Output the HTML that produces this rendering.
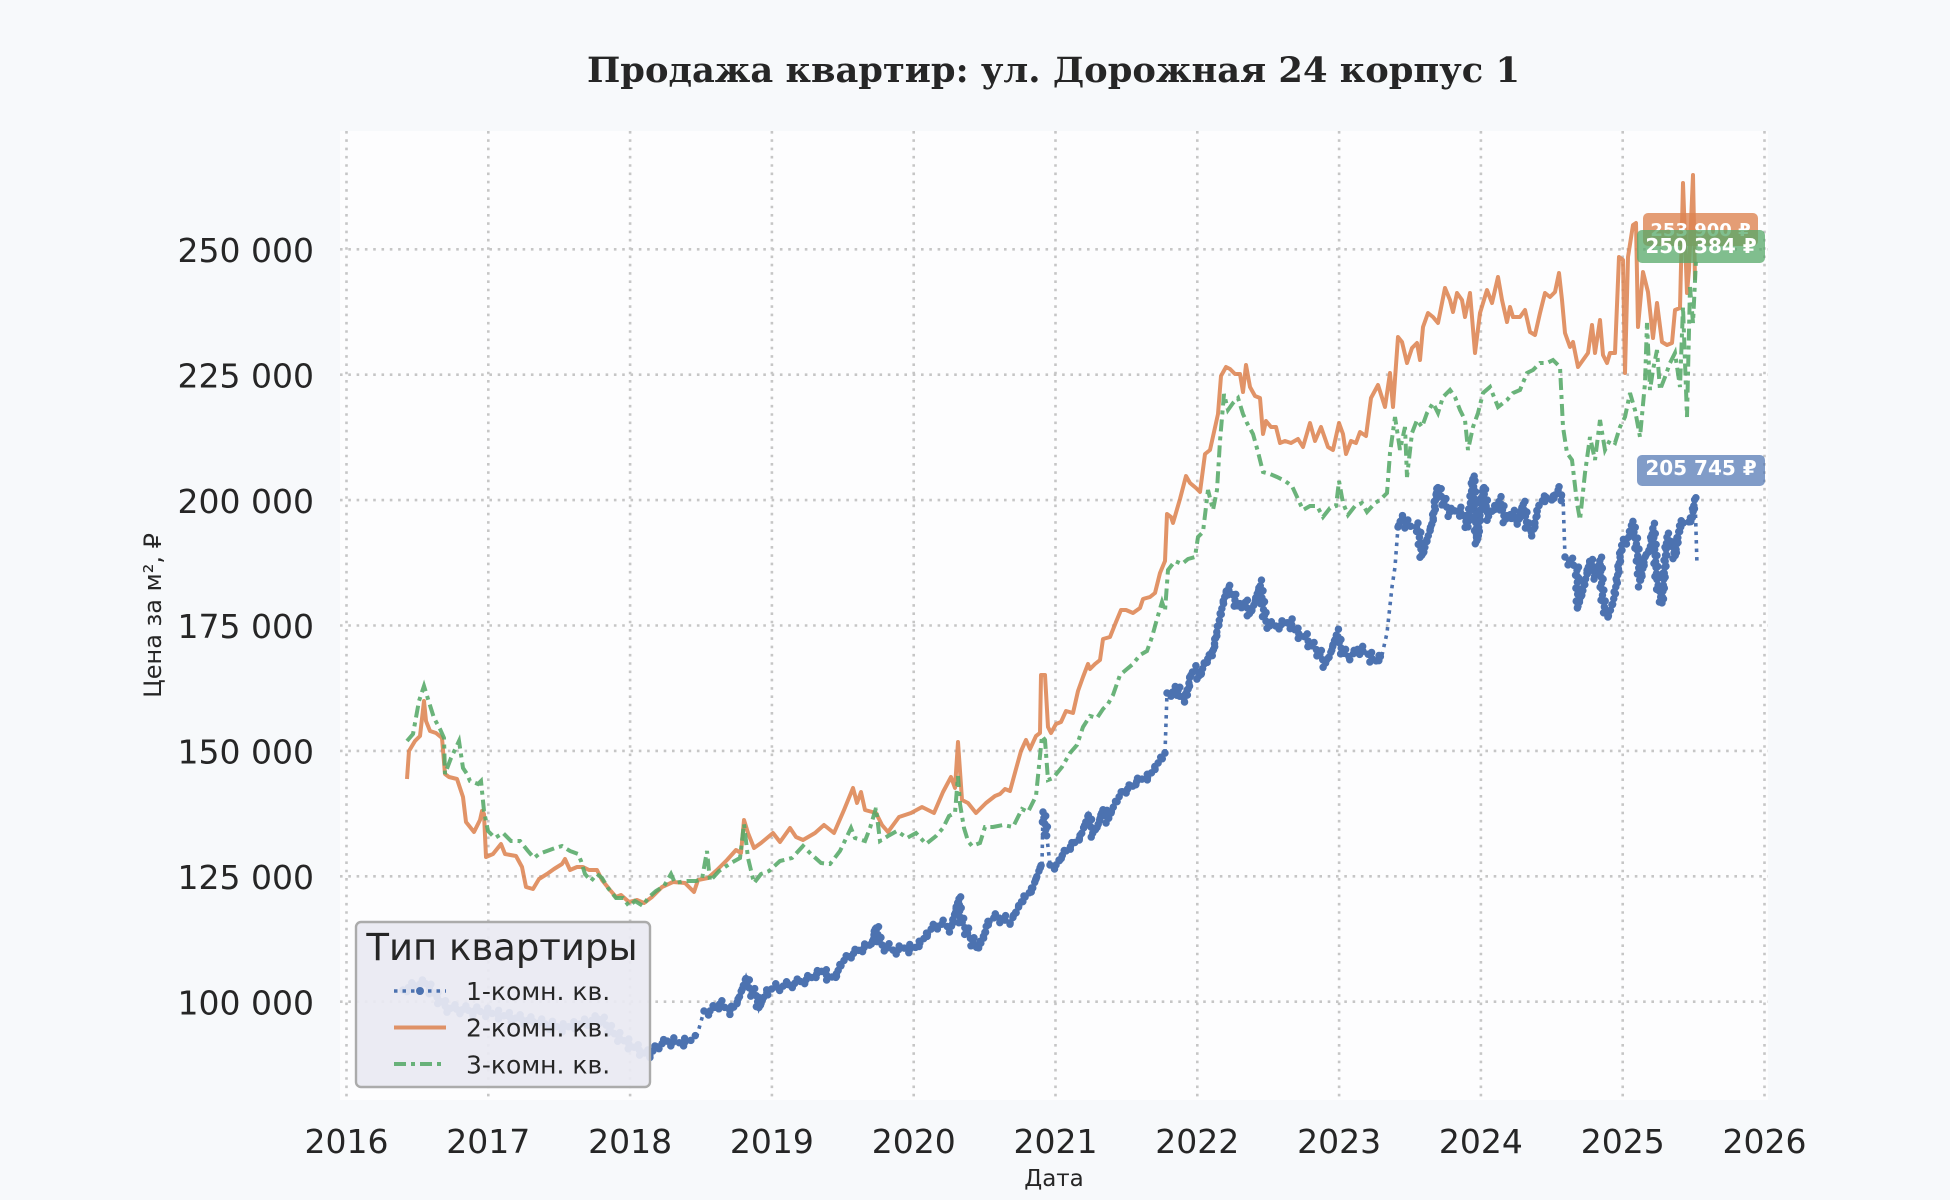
<!DOCTYPE html>
<html><head><meta charset="utf-8"><style>
html,body{margin:0;padding:0;background:#f7f9fb;}
svg{display:block;}
text{font-family:"DejaVu Sans","Liberation Sans",sans-serif;fill:#262626;}
</style></head><body>
<svg width="1950" height="1200" viewBox="0 0 1950 1200" xmlns="http://www.w3.org/2000/svg">
<defs>
<path id="bluebeads" d="M403,990 L412,986 425,983 435,995 447,1008 465,1010 485,1012 505,1016 525,1020 545,1024 563,1028 580,1024 600,1018 612,1032 630,1045 650,1056 654,1049 666,1041 681,1043 696,1039 M704,1011 L710,1011 719,1004 731,1011 738,1001 746,978 750,991 756,994 759,1008 765,994 773,988 784,986 796,983 811,978 821,971 828,976 836,978 840,964 849,956 861,949 872,944 876,926 880,944 888,948 895,951 903,948 914,949 922,941 932,928 941,924 951,928 959,898 960,918 968,934 976,948 983,941 987,923 995,917 1003,919 1010,923 1018,908 1023,899 1032,890 1037,876 1042,863 M1043,812 L1047,838 M1050,865 L1057,865 1063,854 1072,845 1080,838 1088,816 1093,834 1098,825 1103,809 1108,820 1115,803 1123,791 1132,787 1138,780 1147,778 1153,771 1160,760 1165,753 M1167,693 L1172,693 1177,686 1180,698 1187,698 1190,675 1195,669 1200,678 1205,660 1212,657 1217,631 1222,608 1227,588 1233,595 1238,608 1245,602 1250,615 1255,602 1260,584 1265,620 1270,626 1277,626 1283,624 1290,622 1297,633 1305,637 1312,646 1318,651 1325,664 1330,655 1337,633 1340,646 1345,655 1350,657 1358,649 1367,653 1375,662 1382,655 M1398,527 L1402,517 1407,525 1413,527 1418,527 1422,557 1427,540 1433,520 1437,487 1443,500 1450,513 1457,510 1463,513 1468,527 1473,477 1477,543 1483,487 1488,517 1495,507 1500,500 1505,520 1512,513 1518,523 1523,503 1528,530 1533,533 1538,507 1545,497 1552,500 1558,490 1563,497 M1565,557 L1572,563 1577,570 1578,607 1583,590 1590,560 1595,577 1600,560 1603,603 1608,617 1613,603 1617,580 1622,543 1628,540 1632,523 1637,547 1640,583 1645,557 1650,550 1653,527 1657,580 1662,603 1667,537 1672,543 1675,557 1680,523 1687,523 1692,520 1695,497"/>
</defs>
<rect x="0" y="0" width="1950" height="1200" fill="#f7f9fb"/>
<rect x="340" y="131" width="1428" height="969" fill="#fdfdfe"/>
<!-- grid -->
<g stroke="#c6c6c6" stroke-width="2.6" stroke-dasharray="2.6 5.7" fill="none">
<line x1="346.5" y1="131" x2="346.5" y2="1100"/><line x1="488.3" y1="131" x2="488.3" y2="1100"/><line x1="630.1" y1="131" x2="630.1" y2="1100"/><line x1="771.9" y1="131" x2="771.9" y2="1100"/><line x1="913.7" y1="131" x2="913.7" y2="1100"/><line x1="1055.5" y1="131" x2="1055.5" y2="1100"/><line x1="1197.3" y1="131" x2="1197.3" y2="1100"/><line x1="1339.1" y1="131" x2="1339.1" y2="1100"/><line x1="1480.9" y1="131" x2="1480.9" y2="1100"/><line x1="1622.7" y1="131" x2="1622.7" y2="1100"/><line x1="1764.5" y1="131" x2="1764.5" y2="1100"/>
<line x1="340" y1="249.3" x2="1768" y2="249.3"/><line x1="340" y1="374.7" x2="1768" y2="374.7"/><line x1="340" y1="500.1" x2="1768" y2="500.1"/><line x1="340" y1="625.5" x2="1768" y2="625.5"/><line x1="340" y1="750.9" x2="1768" y2="750.9"/><line x1="340" y1="876.3" x2="1768" y2="876.3"/><line x1="340" y1="1001.7" x2="1768" y2="1001.7"/>
</g>
<!-- blue series -->
<polyline fill="none" stroke="#4c72b0" stroke-width="3.6" stroke-dasharray="3.5 5" points="403,990 412,986 425,983 435,995 447,1008 465,1010 485,1012 505,1016 525,1020 545,1024 563,1028 580,1024 600,1018 612,1032 630,1045 650,1056 654,1049 666,1041 681,1043 696,1039 704,1011 710,1011 719,1004 731,1011 738,1001 746,978 750,991 756,994 759,1008 765,994 773,988 784,986 796,983 811,978 821,971 828,976 836,978 840,964 849,956 861,949 872,944 876,926 880,944 888,948 895,951 903,948 914,949 922,941 932,928 941,924 951,928 959,898 960,918 968,934 976,948 983,941 987,923 995,917 1003,919 1010,923 1018,908 1023,899 1032,890 1037,876 1042,863 1043,812 1047,838 1050,865 1057,865 1063,854 1072,845 1080,838 1088,816 1093,834 1098,825 1103,809 1108,820 1115,803 1123,791 1132,787 1138,780 1147,778 1153,771 1160,760 1165,753 1167,693 1172,693 1177,686 1180,698 1187,698 1190,675 1195,669 1200,678 1205,660 1212,657 1217,631 1222,608 1227,588 1233,595 1238,608 1245,602 1250,615 1255,602 1260,584 1265,620 1270,626 1277,626 1283,624 1290,622 1297,633 1305,637 1312,646 1318,651 1325,664 1330,655 1337,633 1340,646 1345,655 1350,657 1358,649 1367,653 1375,662 1382,655 1387,633 1392,587 1395,567 1398,527 1402,517 1407,525 1413,527 1418,527 1422,557 1427,540 1433,520 1437,487 1443,500 1450,513 1457,510 1463,513 1468,527 1473,477 1477,543 1483,487 1488,517 1495,507 1500,500 1505,520 1512,513 1518,523 1523,503 1528,530 1533,533 1538,507 1545,497 1552,500 1558,490 1563,497 1565,557 1572,563 1577,570 1578,607 1583,590 1590,560 1595,577 1600,560 1603,603 1608,617 1613,603 1617,580 1622,543 1628,540 1632,523 1637,547 1640,583 1645,557 1650,550 1653,527 1657,580 1662,603 1667,537 1672,543 1675,557 1680,523 1687,523 1692,520 1695,497 1697,565"/>
<g fill="none" stroke="#4c72b0" stroke-width="7.5" stroke-linecap="round">
<use href="#bluebeads" stroke-dasharray="0 6"/>
<use href="#bluebeads" stroke-dasharray="0 11" stroke-dashoffset="3" transform="translate(1.5,-4)"/>
<use href="#bluebeads" stroke-dasharray="0 13" stroke-dashoffset="7" transform="translate(-1.5,4)"/>
</g>
<!-- orange series -->
<polyline fill="none" stroke="#dd8452" stroke-opacity="0.88" stroke-width="4" stroke-linejoin="round" points="407,779 409,751 415,741 420,736 424,701 426,721 430,731 436,733 442,738 445,774 449,777 457,779 463,797 466,822 474,832 480,820 482,811 484,814 486,857 493,854 501,844 505,854 516,856 522,867 526,887 533,889 539,879 547,874 554,869 562,864 565,859 570,870 577,867 583,867 589,870 597,870 602,880 610,890 616,897 621,895 629,902 637,900 644,903 652,897 662,887 673,882 685,883 694,892 698,880 708,878 717,870 727,860 736,850 741,853 744,820 748,833 754,848 761,843 773,833 780,842 790,828 796,837 803,840 815,833 824,825 834,833 844,810 853,788 857,803 861,792 865,810 876,813 882,825 888,832 899,817 911,813 922,807 934,813 943,792 951,777 955,788 958,742 962,800 968,803 976,813 986,803 995,796 1000,794 1005,789 1010,791 1016,769 1021,751 1026,740 1030,749 1036,736 1040,733 1041,675 1045,675 1048,727 1051,733 1056,724 1061,722 1066,711 1073,713 1078,691 1083,677 1088,664 1090,669 1095,664 1100,660 1103,639 1110,637 1116,622 1121,610 1126,610 1133,613 1140,608 1143,599 1150,597 1155,593 1160,573 1165,561 1167,514 1171,517 1173,523 1180,499 1186,476 1190,483 1196,488 1200,492 1205,454 1210,450 1218,414 1221,376 1226,367 1230,369 1235,374 1240,374 1243,392 1246,365 1250,387 1255,396 1260,398 1263,434 1266,421 1271,427 1276,427 1280,443 1285,441 1291,443 1298,439 1303,447 1310,423 1315,441 1321,427 1328,447 1333,450 1339,423 1343,434 1346,454 1351,441 1356,443 1360,432 1366,436 1371,398 1378,385 1385,407 1390,373 1393,407 1398,337 1402,342 1407,363 1412,348 1417,343 1420,360 1423,327 1428,313 1433,317 1438,323 1445,288 1450,300 1453,312 1457,293 1462,300 1465,317 1470,293 1475,353 1480,313 1487,290 1492,303 1498,277 1502,300 1507,322 1510,307 1513,317 1520,317 1525,310 1530,332 1535,335 1540,313 1545,293 1550,297 1555,292 1559,273 1562,300 1565,333 1570,347 1573,342 1578,367 1583,360 1588,353 1592,325 1595,353 1600,320 1603,355 1607,363 1610,353 1615,353 1619,257 1623,260 1625,373 1628,257 1633,225 1636,223 1638,327 1643,272 1648,292 1653,338 1657,303 1662,342 1667,345 1672,343 1675,310 1680,308 1683,183 1687,293 1689,270 1693,175 1695,280"/>
<!-- green series -->
<polyline fill="none" stroke="#55a868" stroke-opacity="0.88" stroke-width="4" stroke-dasharray="12 5 4 5" points="407,741 413,734 419,701 424,686 428,699 434,718 440,729 444,738 445,774 451,758 459,741 463,768 467,774 470,781 478,784 481,781 484,811 488,831 495,838 503,833 511,841 520,841 528,851 534,858 539,854 547,851 555,848 562,846 570,851 578,854 581,861 585,874 591,881 597,874 602,878 608,888 616,898 623,898 629,906 635,901 643,906 648,898 656,891 664,886 671,874 675,883 685,881 696,881 702,879 707,851 710,881 719,871 731,863 740,858 744,824 748,858 754,883 761,874 769,871 780,861 792,858 803,846 811,854 821,863 830,864 840,851 851,828 855,838 865,841 870,828 876,808 880,841 888,836 897,831 907,838 916,833 926,844 936,836 943,828 949,816 955,813 958,776 960,804 964,828 968,841 972,846 980,843 985,827 993,827 1003,825 1013,827 1022,809 1028,812 1036,796 1042,736 1045,740 1048,780 1053,778 1062,767 1070,753 1077,745 1083,727 1090,716 1097,718 1103,709 1108,704 1113,695 1120,675 1127,669 1133,664 1140,655 1147,651 1152,637 1157,619 1162,602 1165,611 1168,570 1175,561 1182,564 1188,559 1195,557 1198,537 1203,532 1208,490 1213,510 1217,490 1220,441 1224,394 1228,410 1233,403 1238,398 1243,414 1247,423 1253,434 1258,452 1263,472 1270,474 1277,477 1285,481 1292,486 1298,499 1303,510 1310,506 1317,506 1323,517 1330,508 1336,506 1339,481 1343,503 1348,515 1355,506 1362,503 1367,512 1375,503 1380,500 1387,493 1390,453 1395,417 1400,450 1405,427 1407,477 1412,433 1417,420 1422,427 1427,413 1433,403 1438,413 1443,397 1450,390 1455,397 1460,410 1465,420 1468,450 1473,427 1478,413 1483,393 1490,387 1498,407 1507,400 1513,393 1520,390 1527,373 1533,370 1540,363 1547,363 1553,360 1560,367 1563,427 1567,453 1572,460 1577,503 1580,520 1585,473 1590,437 1595,460 1600,420 1605,450 1610,440 1615,443 1620,427 1625,417 1630,393 1635,410 1640,437 1645,383 1647,323 1650,390 1653,370 1657,350 1660,390 1665,377 1670,363 1675,353 1680,387 1683,307 1687,417 1690,287 1693,323 1696,260"/>
<!-- annotations -->
<rect x="1643" y="213" width="115" height="33" rx="5" fill="#dd8452" fill-opacity="0.8"/>
<text x="1700.5" y="236" text-anchor="middle" font-size="18" font-weight="bold" style="fill:#ffffff">253 900 ₽</text>
<rect x="1637" y="230" width="128" height="33" rx="5" fill="#55a868" fill-opacity="0.75"/>
<text x="1701" y="253" text-anchor="middle" font-size="20" font-weight="bold" style="fill:#ffffff">250 384 ₽</text>
<rect x="1637" y="455" width="128" height="31" rx="5" fill="#4c72b0" fill-opacity="0.7"/>
<text x="1701" y="475" text-anchor="middle" font-size="20" font-weight="bold" style="fill:#ffffff">205 745 ₽</text>
<!-- legend -->
<rect x="356" y="922" width="294" height="165" rx="5" fill="#eaeaf2" fill-opacity="0.93" stroke="#ababab" stroke-width="2.4"/>
<text x="502" y="960" text-anchor="middle" font-size="37">Тип квартиры</text>
<line x1="394" y1="991" x2="446" y2="991" stroke="#4c72b0" stroke-width="3.6" stroke-dasharray="3.5 5"/>
<circle cx="420" cy="991" r="4" fill="#4c72b0"/>
<line x1="394" y1="1027.5" x2="446" y2="1027.5" stroke="#dd8452" stroke-opacity="0.88" stroke-width="4"/>
<line x1="394" y1="1064" x2="446" y2="1064" stroke="#55a868" stroke-opacity="0.88" stroke-width="4" stroke-dasharray="12 5 4 5"/>
<text x="466" y="1000" font-size="25">1-комн. кв.</text>
<text x="466" y="1036.7" font-size="25">2-комн. кв.</text>
<text x="466" y="1073.3" font-size="25">3-комн. кв.</text>
<!-- y tick labels -->
<g font-size="33" text-anchor="end">
<text x="314" y="262">250 000</text>
<text x="314" y="387.4">225 000</text>
<text x="314" y="512.8">200 000</text>
<text x="314" y="638.2">175 000</text>
<text x="314" y="763.6">150 000</text>
<text x="314" y="889">125 000</text>
<text x="314" y="1014.4">100 000</text>
</g>
<!-- x tick labels -->
<g font-size="33" text-anchor="middle">
<text x="346.5" y="1153">2016</text><text x="488.3" y="1153">2017</text><text x="630.1" y="1153">2018</text><text x="771.9" y="1153">2019</text><text x="913.7" y="1153">2020</text><text x="1055.5" y="1153">2021</text><text x="1197.3" y="1153">2022</text><text x="1339.1" y="1153">2023</text><text x="1480.9" y="1153">2024</text><text x="1622.7" y="1153">2025</text><text x="1764.5" y="1153">2026</text>
</g>
<text x="1054" y="1186" text-anchor="middle" font-size="23">Дата</text>
<text transform="translate(161,615.5) rotate(-90)" text-anchor="middle" font-size="24">Цена за м², ₽</text>
<text x="1053.5" y="82" text-anchor="middle" font-size="35" font-weight="bold" textLength="933" lengthAdjust="spacingAndGlyphs" style="font-family:'DejaVu Serif','Liberation Serif',serif;fill:#262626">Продажа квартир: ул. Дорожная 24 корпус 1</text>
</svg>
</body></html>
